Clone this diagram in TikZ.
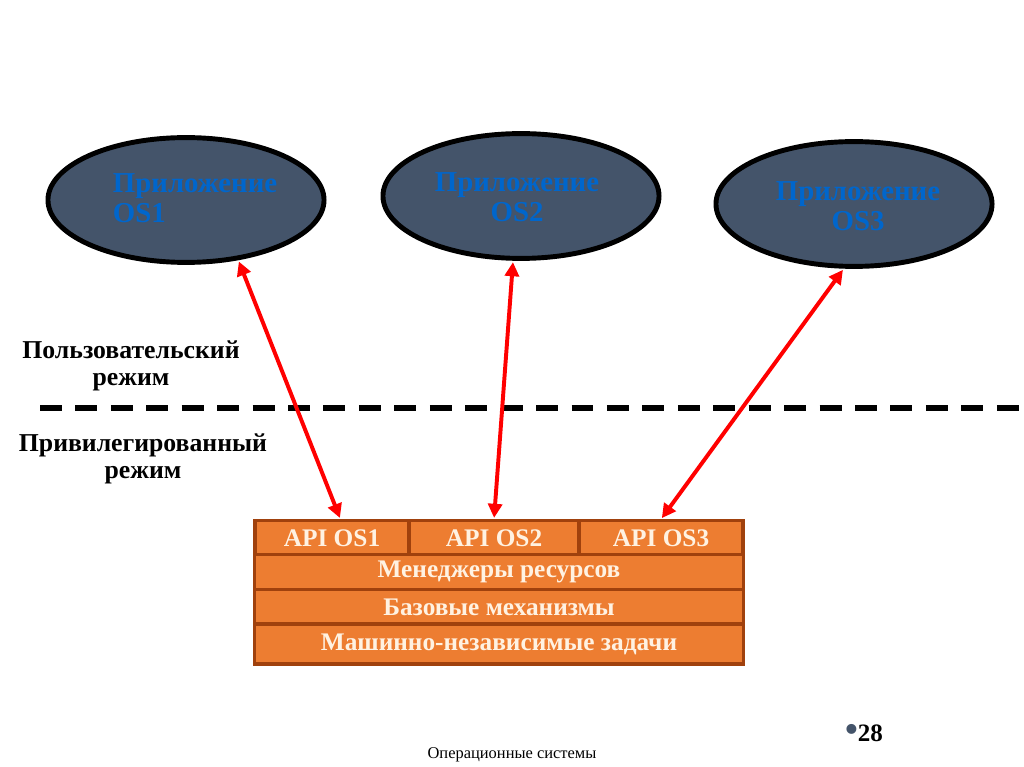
\documentclass[tikz,border=0pt]{standalone}
\usepackage{fontspec}
\setmainfont{Liberation Serif}
\usetikzlibrary{shapes.geometric,arrows.meta}
\definecolor{slate}{HTML}{44546A}
\definecolor{appblue}{HTML}{0066CC}
\definecolor{apiorange}{HTML}{ED7D31}
\definecolor{apibrown}{HTML}{A0410D}
\definecolor{apitext}{HTML}{FFF2E2}
\begin{document}
\begin{tikzpicture}[x=0.025cm, y=-0.025cm,
        app/.style={draw, ellipse, fill=slate, line width=3.5pt, inner sep=0pt, minimum width=6.9cm, minimum height=3.12cm},
        apptext/.style={text=appblue, font=\bfseries\fontsize{20.5}{21.5}\selectfont},
        layer/.style={draw=apibrown, fill=apiorange, line width=2.2pt, text=apitext, minimum height=0.86cm, inner sep=0pt, font=\bfseries\fontsize{18}{20}\selectfont},
        mode/.style={align=center, font=\bfseries\fontsize{18.3}{19.5}\selectfont},
        link/.style={{Triangle[length=10pt,width=10pt]}-{Triangle[length=10pt,width=10pt]}, red, line width=2.8pt, shorten <=1pt, shorten >=1pt}
      ]
      \useasboundingbox[fill=white] (0,0) rectangle (1024,767);

      \node[app] (app1) at (186,200) {};
      \node[app] (app2) at (521,196) {};
      \node[app] (app3) at (854,204) {};
      \node[apptext, align=left, anchor=west] (app1txt) at (108,198) {Приложение\\OS1};
      \node[apptext, align=center] (app2txt) at (517,197) {Приложение\\OS2};
      \node[apptext, align=center] (app3txt) at (858,206) {Приложение\\OS3};

      \node[mode] (user) at (131,366) {Пользовательский\\режим};
      \node[mode] (kernel) at (143,459) {Привилегированный\\режим};
      \coordinate (sepL) at (40,408);
      \coordinate (sepR) at (1024,408);
      \draw[line width=3.8pt, dash pattern=on 15.6pt off 9.6pt] (sepL) -- (sepR);

      \node[layer, minimum width=3.85cm] (api1) at (332,538) {API OS1};
      \node[layer, minimum width=4.25cm] (api2) at (494,538) {API OS2};
      \node[layer, minimum width=4.1cm] (api3) at (661,538) {API OS3};
      \node[layer, minimum width=12.2cm] (res) at (499,572) {Менеджеры ресурсов};
      \node[layer, minimum width=12.2cm] (base) at (499,607) {Базовые механизмы};
      \node[layer, minimum width=12.2cm, minimum height=1cm] (mach) at (499,644) {Машинно-независимые задачи};

      \draw[link] (app1.-49) -- ([xshift=6pt]api1.north);
      \draw[link] (app2.-97) -- (api2.north);
      \draw[link] (app3.-99) -- (api3.north);

      \node[font=\fontsize{11.7}{14}\selectfont] (footer) at (512,755) {Операционные системы};
      \node[font=\bfseries\fontsize{17.8}{20}\selectfont] (page) at (864,733) {{\color{slate}\fontsize{26}{26}\selectfont\textbullet}28};
    \end{tikzpicture}
\end{document}
